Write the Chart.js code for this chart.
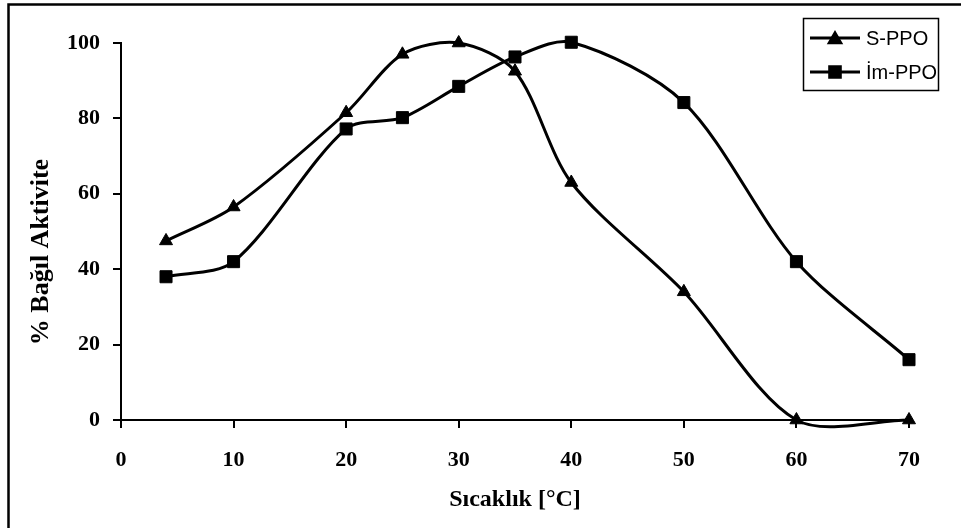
<!DOCTYPE html>
<html>
<head>
<meta charset="utf-8">
<script src="https://cdn.jsdelivr.net/npm/chart.js@4.4.1/dist/chart.umd.min.js"></script>
<style>
  html, body { margin: 0; padding: 0; background: #ffffff; }
  #wrap { width: 961px; height: 528px; position: relative; }
</style>
</head>
<body>
<div id="wrap"><canvas id="c" width="961" height="528"></canvas></div>
<script>
// ---- data ----
const temperatures = [4, 10, 20, 25, 30, 35, 40, 50, 60, 70];
const sPPO  = [47.5, 56.5, 81.5, 97, 100, 92.5, 63, 34, 0, 0];
const imPPO = [38, 42, 77.2, 80.2, 88.5, 96.3, 100.2, 84.2, 42, 16];
const seriesNames = ['S-PPO', 'İm-PPO'];
const xTicks = [0, 10, 20, 30, 40, 50, 60, 70];
const yTicks = [0, 20, 40, 60, 80, 100];
const xTitle = 'Sıcaklık [°C]';
const yTitle = '% Bağıl Aktivite';

const toPoints = (vals) => temperatures.map((t, i) => ({ x: t, y: vals[i] }));
const SERIF = '"Liberation Serif", "Times New Roman", serif';

const framePlugin = {
  id: 'frameAndLegend',
  afterDraw(chart) {
    const ctx = chart.ctx;
    ctx.save();
    // outer frame (only top and left edges visible in the picture)
    ctx.strokeStyle = '#000';
    ctx.lineWidth = 2.5;
    ctx.strokeRect(8.5, 4.5, 1200, 1200);
    // y axis title
    ctx.save();
    ctx.translate(41, 252);
    ctx.rotate(-Math.PI / 2);
    ctx.fillStyle = '#000';
    ctx.font = 'bold 26px ' + SERIF;
    ctx.textAlign = 'center';
    ctx.textBaseline = 'middle';
    ctx.fillText(yTitle, 0, 0);
    ctx.restore();
    // legend box
    ctx.lineWidth = 1.5;
    ctx.strokeRect(803.5, 18.5, 135, 72);
    const rows = [38, 72];
    chart.data.datasets.forEach((ds, i) => {
      const y = rows[i];
      ctx.strokeStyle = '#000';
      ctx.lineWidth = 3;
      ctx.beginPath();
      ctx.moveTo(810, y);
      ctx.lineTo(860, y);
      ctx.stroke();
      ctx.fillStyle = '#000';
      Chart.helpers.drawPoint(ctx, {
        pointStyle: ds.pointStyle,
        radius: ds.pointStyle === 'triangle' ? 6.5 : 7.5,
        rotation: 0,
        borderWidth: 1
      }, 835, ds.pointStyle === 'triangle' ? y + 1.5 : y);
      ctx.fill();
      ctx.fillStyle = '#000';
      ctx.font = '20px "Liberation Sans", Arial, sans-serif';
      ctx.textAlign = 'left';
      ctx.textBaseline = 'middle';
      ctx.fillText(ds.label, 866, y + 1);
    });
    ctx.restore();
  }
};

new Chart(document.getElementById('c'), {
  type: 'line',
  data: {
    datasets: [
      {
        label: seriesNames[0],
        data: toPoints(sPPO),
        borderColor: '#000',
        backgroundColor: '#000',
        borderWidth: 3,
        pointStyle: 'triangle',
        pointRadius: 7.5,
        pointBorderWidth: 1,
        pointBackgroundColor: '#000',
        pointBorderColor: '#000',
        tension: 0.3,
        clip: false,
        fill: false
      },
      {
        label: seriesNames[1],
        data: toPoints(imPPO),
        borderColor: '#000',
        backgroundColor: '#000',
        borderWidth: 3,
        pointStyle: 'rect',
        pointRadius: 8.5,
        pointBorderWidth: 1,
        pointBackgroundColor: '#000',
        pointBorderColor: '#000',
        tension: 0.3,
        clip: false,
        fill: false
      }
    ]
  },
  options: {
    responsive: false,
    animation: false,
    devicePixelRatio: 1,
    elements: { line: { capBezierPoints: false } },
    layout: { padding: { left: 0, top: 43, right: 52, bottom: 0 } },
    plugins: {
      legend: { display: false },
      tooltip: { enabled: false },
      title: { display: false }
    },
    scales: {
      x: {
        type: 'linear',
        min: 0,
        max: 70,
        afterBuildTicks(scale) { scale.ticks = xTicks.map(v => ({ value: v })); },
        afterFit(scale) { scale.height = 108; },
        border: { display: true, color: '#000', width: 2 },
        grid: { drawOnChartArea: false, drawTicks: true, tickLength: 8, color: '#000', lineWidth: 2 },
        ticks: {
          color: '#000',
          padding: 19,
          maxRotation: 0,
          font: { family: SERIF, size: 22, weight: 'bold' }
        },
        title: {
          display: true,
          text: xTitle,
          color: '#000',
          padding: { top: 0, bottom: 14 },
          font: { family: SERIF, size: 24, weight: 'bold' }
        }
      },
      y: {
        type: 'linear',
        min: 0,
        max: 100,
        afterBuildTicks(scale) { scale.ticks = yTicks.map(v => ({ value: v })); },
        afterFit(scale) { scale.width = 121; },
        border: { display: true, color: '#000', width: 2 },
        grid: { drawOnChartArea: false, drawTicks: true, tickLength: 8, color: '#000', lineWidth: 2 },
        ticks: {
          color: '#000',
          padding: 13,
          font: { family: SERIF, size: 22, weight: 'bold' }
        },
        title: { display: false }
      }
    }
  },
  plugins: [framePlugin]
});
</script>
</body>
</html>
